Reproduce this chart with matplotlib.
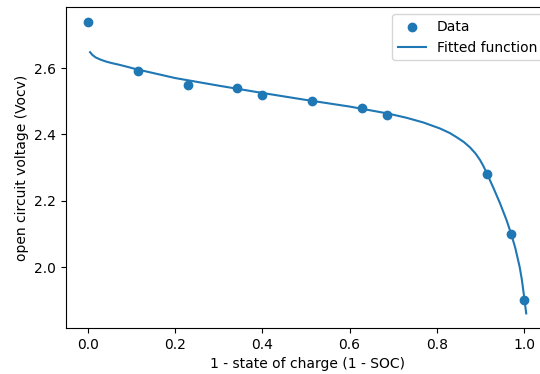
import matplotlib
matplotlib.use("Agg")
import matplotlib.pyplot as plt

# measured open circuit voltage vs depth of discharge
dod = [0.0, 0.114, 0.229, 0.343, 0.4, 0.514, 0.629, 0.686, 0.914, 0.971, 1.0]
vocv = [2.74, 2.59, 2.55, 2.54, 2.52, 2.50, 2.48, 2.46, 2.28, 2.10, 1.90]

# fitted curve, sampled
fit_x = [0.005, 0.01, 0.018, 0.028, 0.041, 0.055, 0.072, 0.09, 0.11, 0.15,
         0.2, 0.3, 0.4, 0.5, 0.6, 0.688, 0.731, 0.769, 0.807, 0.83, 0.846,
         0.862, 0.876, 0.889, 0.899, 0.907, 0.915, 0.93, 0.945, 0.96, 0.971,
         0.98, 0.99, 0.995, 1.0, 1.005]
fit_y = [2.648, 2.640, 2.632, 2.626, 2.620, 2.615, 2.610, 2.604, 2.597, 2.585,
         2.570, 2.547, 2.525, 2.504, 2.484, 2.463, 2.450, 2.436, 2.418, 2.404,
         2.391, 2.377, 2.361, 2.342, 2.323, 2.304, 2.282, 2.238, 2.192, 2.141,
         2.098, 2.057, 2.000, 1.962, 1.912, 1.860]

fig = plt.figure(figsize=(5.4, 3.74), dpi=100)
ax = fig.add_subplot(111)
fig.subplots_adjust(left=0.122, right=1.0176, top=0.981, bottom=0.123)

ax.scatter(dod, vocv, label="Data")
ax.plot(fit_x, fit_y, label="Fitted function")
ax.set_xlim(-0.0505, 1.0584)
ax.set_xlabel("1 - state of charge (1 - SOC)")
ax.set_ylabel("open circuit voltage (Vocv)")
ax.legend(loc="upper right")

fig.savefig("out.png", dpi=100)
